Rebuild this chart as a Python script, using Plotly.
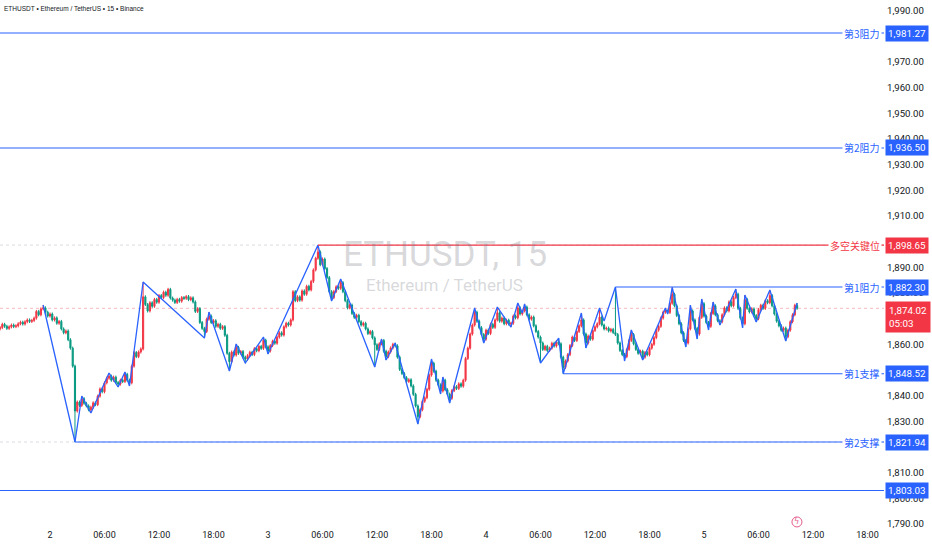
import pandas as pd
import plotly.graph_objects as go

# ETHUSDT 15m candles, first bar is 06-01 18:30
start = "2023-06-01 18:30"
first_open = 1866.0

close_d1 = [1866.5, 1867.8, 1867.0, 1866.2, 1866.8, 1867.5, 1866.9, 1867.2, 1868.0, 1868.6,
            1867.9, 1868.8, 1869.5, 1868.9, 1869.3, 1870.2, 1872.8, 1871.5, 1873.8, 1874.2,
            1872.5, 1871.0]
close_d2 = [1871.8, 1869.5, 1870.3, 1868.2, 1868.9, 1866.0, 1864.5, 1865.2, 1861.8, 1858.5,
            1851.5, 1834.0, 1837.5, 1836.2, 1838.8, 1837.0, 1836.0, 1834.5, 1835.5, 1837.2,
            1836.5, 1839.8, 1842.6, 1841.5, 1845.0, 1846.8, 1847.6, 1846.0, 1847.2, 1845.1,
            1844.5, 1846.0, 1845.5, 1848.3, 1846.0, 1845.0, 1851.5, 1856.8, 1855.2, 1857.0,
            1858.2, 1878.5, 1875.5, 1873.0, 1876.2, 1874.8, 1877.5, 1876.4, 1879.0, 1878.2,
            1880.3, 1879.1, 1881.4, 1878.0, 1877.2, 1876.3, 1877.5, 1876.8, 1878.2, 1877.9,
            1878.6, 1877.4, 1878.1, 1876.5, 1872.8, 1873.9, 1868.5, 1866.2, 1865.0, 1869.8,
            1871.0, 1868.5, 1869.2, 1867.0, 1867.8, 1866.2, 1866.9, 1863.5, 1856.5, 1853.2,
            1857.0, 1855.8, 1858.8, 1856.5, 1857.2, 1855.0, 1854.2, 1855.6, 1856.9, 1856.0,
            1858.3, 1857.5, 1859.2, 1858.4, 1861.6, 1859.0]
close_d3 = [1857.4, 1859.5, 1861.2, 1860.4, 1862.8, 1864.5, 1863.6, 1866.8, 1868.2, 1867.5,
            1869.5, 1880.5, 1877.0, 1878.5, 1877.2, 1880.8, 1879.5, 1882.6, 1881.2, 1884.5,
            1889.0, 1893.5, 1896.0, 1891.0, 1893.2, 1889.5, 1886.0, 1880.5, 1878.2, 1880.6,
            1882.4, 1881.8, 1884.0, 1880.5, 1877.0, 1874.2, 1875.3, 1872.0, 1870.5, 1871.3,
            1868.8, 1867.5, 1868.2, 1866.0, 1864.2, 1865.0, 1862.5, 1859.8, 1858.0, 1860.2,
            1861.5, 1857.3, 1855.2, 1857.0, 1858.6, 1860.0, 1859.4, 1855.0, 1850.2, 1848.6,
            1847.0, 1845.5, 1846.2, 1843.8, 1840.5, 1836.0, 1831.8, 1834.5, 1837.8, 1839.2,
            1842.5, 1848.0, 1852.6, 1849.5, 1846.0, 1844.2, 1841.8, 1846.0, 1842.3, 1840.6,
            1839.0, 1842.0, 1843.5, 1842.8, 1844.6, 1843.7, 1846.0, 1854.5, 1858.5, 1864.0,
            1867.5, 1872.5, 1869.0, 1866.5, 1863.8, 1862.0]
close_d4 = [1865.5, 1864.2, 1867.8, 1866.6, 1869.5, 1872.3, 1869.0, 1870.2, 1868.0, 1869.4,
            1867.9, 1868.2, 1871.0, 1870.3, 1874.2, 1871.8, 1873.0, 1874.5, 1871.5, 1869.8,
            1870.6, 1867.2, 1865.0, 1862.8, 1860.5, 1858.0, 1859.2, 1857.6, 1858.5, 1860.4,
            1859.3, 1861.0, 1860.2, 1855.0, 1851.0, 1853.5, 1856.0, 1859.5, 1862.8, 1861.5,
            1865.0, 1867.2, 1869.5, 1864.0, 1860.5, 1863.2, 1862.0, 1865.4, 1866.8, 1868.0,
            1870.6, 1867.5, 1866.0, 1866.3, 1865.2, 1865.8, 1864.6, 1863.8, 1860.5, 1857.6,
            1856.0, 1855.2, 1858.0, 1861.5, 1863.8, 1860.2, 1858.0, 1856.5, 1857.3, 1855.0,
            1856.8, 1855.9, 1858.5, 1860.0, 1862.6, 1865.5, 1867.0, 1870.2, 1872.5, 1873.0,
            1872.4, 1876.0, 1879.5, 1875.0, 1871.2, 1868.0, 1864.5, 1861.5, 1860.5, 1866.0,
            1873.0, 1869.5, 1866.2, 1864.0, 1870.5, 1875.8]
close_d5 = [1871.0, 1868.5, 1867.0, 1872.0, 1875.0, 1871.5, 1869.2, 1868.8, 1871.5, 1874.2,
            1873.0, 1876.5, 1875.0, 1878.2, 1879.5, 1874.0, 1870.2, 1868.0, 1877.5, 1874.0,
            1872.6, 1873.8, 1871.2, 1870.0, 1873.5, 1875.2, 1874.0, 1877.0, 1876.2, 1879.0,
            1875.0, 1871.8, 1869.0, 1867.2, 1865.5, 1866.3, 1863.0, 1865.5, 1868.8, 1871.5,
            1875.2, 1874.02]

# zigzag swing points
zz_time = ["06-01 23:15", "06-02 02:45", "06-02 03:30", "06-02 04:30", "06-02 06:30",
           "06-02 07:30", "06-02 08:15", "06-02 08:45", "06-02 10:15", "06-02 17:00",
           "06-02 17:30", "06-02 19:45", "06-02 20:30", "06-02 21:30", "06-02 23:30",
           "06-03 00:00", "06-03 05:30", "06-03 07:00", "06-03 08:00", "06-03 11:45",
           "06-03 12:30", "06-03 13:00", "06-03 14:00", "06-03 16:30", "06-03 18:00",
           "06-03 19:00", "06-03 19:15", "06-03 20:00", "06-03 22:45", "06-03 23:45",
           "06-04 01:15", "06-04 02:45", "06-04 03:30", "06-04 04:00", "06-04 04:15",
           "06-04 06:00", "06-04 08:00", "06-04 08:30", "06-04 10:30", "06-04 11:00",
           "06-04 12:30", "06-04 13:00", "06-04 14:15", "06-04 15:15", "06-04 16:00",
           "06-04 17:15", "06-04 19:45", "06-04 20:00", "06-04 20:30", "06-04 22:00",
           "06-04 22:30", "06-04 23:15", "06-04 23:45", "06-05 00:30", "06-05 01:00",
           "06-05 01:45", "06-05 03:30", "06-05 04:15", "06-05 04:30", "06-05 05:45",
           "06-05 07:15", "06-05 09:00", "06-05 10:15"]
zz_price = [1875.31, 1821.94, 1839.86, 1833.24, 1848.82, 1843.37, 1849.21, 1843.76, 1884.27,
            1862.45, 1872.58, 1849.60, 1860.12, 1852.72, 1862.84, 1856.22, 1898.65, 1876.87,
            1885.44, 1851.16, 1862.06, 1853.88, 1860.51, 1828.95, 1854.27, 1840.64, 1847.26,
            1837.13, 1874.14, 1860.51, 1874.53, 1866.74, 1876.09, 1872.19, 1875.70, 1852.72,
            1862.45, 1848.52, 1872.19, 1858.56, 1874.14, 1869.08, 1882.30, 1853.49, 1865.57,
            1853.88, 1874.14, 1871.80, 1882.20, 1858.95, 1875.31, 1862.06, 1877.65, 1865.57,
            1876.48, 1867.52, 1881.54, 1866.35, 1879.21, 1868.69, 1881.15, 1861.29, 1876.09]

# horizontal levels
level_names = ["第3阻力", "第2阻力", "多空关键位", "第1阻力", "第1支撑", "第2支撑", ""]
level_prices = [1981.27, 1936.50, 1898.65, 1882.30, 1848.52, 1821.94, 1803.03]
level_from = [None, None, "06-03 05:30", "06-04 14:15", "06-04 08:30", "06-02 02:45", None]
level_colors = ["#2962FF", "#2962FF", "#F23645", "#2962FF", "#2962FF", "#2962FF", "#2962FF"]

last_price = 1874.02
countdown = "05:03"

# price scale labels (the ones sitting fully under a price tag are left out)
price_ticks = [1790, 1800, 1810, 1830, 1840, 1850, 1860, 1880, 1890, 1900,
               1910, 1920, 1930, 1940, 1950, 1960, 1970, 1990]

tick_times = ["06-02 00:00", "06-02 06:00", "06-02 12:00", "06-02 18:00",
              "06-03 00:00", "06-03 06:00", "06-03 12:00", "06-03 18:00",
              "06-04 00:00", "06-04 06:00", "06-04 12:00", "06-04 18:00",
              "06-05 00:00", "06-05 06:00", "06-05 12:00", "06-05 18:00"]
tick_text = ["2", "06:00", "12:00", "18:00", "3", "06:00", "12:00", "18:00",
             "4", "06:00", "12:00", "18:00", "5", "06:00", "12:00", "18:00"]

blue = "#2962FF"
red = "#F23645"
green = "#089981"


def ts(s):
    return pd.Timestamp("2023-" + s)


closes = close_d1 + close_d2 + close_d3 + close_d4 + close_d5
times = pd.date_range(start, periods=len(closes), freq="15min")
opens = [first_open] + closes[:-1]
highs = [max(o, c) + 0.6 for o, c in zip(opens, closes)]
lows = [min(o, c) - 0.6 for o, c in zip(opens, closes)]

# let the swing points sit on the candle wicks
idx = {t: i for i, t in enumerate(times)}
for k, (t, p) in enumerate(zip(zz_time, zz_price)):
    ref = zz_price[k - 1] if k > 0 else zz_price[1]
    i = idx.get(ts(t))
    if i is None:
        continue
    if p > ref:
        highs[i] = max(highs[i], p)
    else:
        lows[i] = min(lows[i], p)

x_lo = pd.Timestamp("2023-06-01 18:29:42")
x_hi = pd.Timestamp("2023-06-05 19:49:00")
y_lo, y_hi = 1788.44, 1994.13

fig = go.Figure()

# faint dotted guides
for p, col in [(1898.65, "#D9DBE0"), (1821.94, "#D9DBE0"), (last_price, "#F7B8BE")]:
    fig.add_shape(type="line", x0=x_lo, x1=x_hi, y0=p, y1=p, xref="x", yref="y",
                  line=dict(color=col, width=1, dash="dot"), layer="below")

fig.add_trace(go.Candlestick(
    x=times, open=opens, high=highs, low=lows, close=closes,
    increasing=dict(line=dict(color=red, width=1), fillcolor=red),
    decreasing=dict(line=dict(color=green, width=1), fillcolor=green),
    whiskerwidth=0, hoverinfo="skip"))

fig.add_trace(go.Scatter(x=[ts(t) for t in zz_time], y=zz_price, mode="lines",
                         line=dict(color=blue, width=1.3), hoverinfo="skip"))

for name, p, frm, col in zip(level_names, level_prices, level_from, level_colors):
    x0 = x_lo if frm is None else ts(frm)
    fig.add_shape(type="line", x0=x0, x1=x_hi, y0=p, y1=p, xref="x", yref="y",
                  line=dict(color=col, width=1.1))
    if name:
        fig.add_annotation(x=1, xref="paper", xanchor="right", xshift=-2, y=p, yref="y",
                           text=name, showarrow=False, bgcolor="white", borderpad=1,
                           font=dict(color=col, size=10, family="Noto Sans CJK SC"))
    fig.add_annotation(x=1, xref="paper", xanchor="left", xshift=1, y=p, yref="y",
                       text=f"{p:,.2f}", showarrow=False, bgcolor=col, borderpad=2,
                       font=dict(color="white", size=9.8, family="Roboto"))

# last price tag with bar countdown
fig.add_annotation(x=1, xref="paper", xanchor="left", xshift=1, y=last_price, yref="y",
                   yanchor="top", yshift=7, text=f"{last_price:,.2f}<br>{countdown}",
                   align="left", showarrow=False, bgcolor=red, borderpad=3,
                   font=dict(color="white", size=9.8, family="Roboto"))

# watermark
fig.add_annotation(x=0.503, y=0.518, xref="paper", yref="paper", text="ETHUSDT, 15",
                   showarrow=False, font=dict(size=35, color="rgba(120,123,134,0.30)",
                                              family="Roboto"))
fig.add_annotation(x=0.503, y=0.46, xref="paper", yref="paper", text="Ethereum / TetherUS",
                   showarrow=False, font=dict(size=17, color="rgba(120,123,134,0.30)",
                                              family="Roboto"))

# header
fig.add_annotation(x=0, y=1, xref="paper", yref="paper", xanchor="left", yanchor="top",
                   xshift=2, yshift=-3,
                   text="ETHUSDT • Ethereum / TetherUS • 15 • Binance",
                   showarrow=False, font=dict(size=6.5, color="#131722",
                                              family="Liberation Sans"))

# event marker on the time scale
ev_t, ev_p = ts("06-05 10:14"), 1790.8
fig.add_shape(type="circle", xref="x", yref="y", xsizemode="pixel", ysizemode="pixel",
              xanchor=ev_t, yanchor=ev_p, x0=-5, x1=5, y0=-5, y1=5,
              line=dict(color="#E45A8C", width=1))
fig.add_annotation(x=ev_t, y=ev_p, text="ϟ", showarrow=False,
                   font=dict(size=8, color="#E45A8C", family="DejaVu Sans"))

fig.update_layout(
    width=932, height=550,
    margin=dict(l=0, r=48, t=0, b=22),
    plot_bgcolor="white", paper_bgcolor="white",
    showlegend=False,
    font=dict(family="Roboto", color="#131722"),
    xaxis=dict(type="date", range=[x_lo, x_hi], rangeslider=dict(visible=False),
               tickvals=[ts(t) for t in tick_times], ticktext=tick_text,
               showgrid=False, zeroline=False, showline=False, ticks="",
               tickfont=dict(size=9, color="#131722")),
    yaxis=dict(side="right", range=[y_lo, y_hi], tickvals=price_ticks,
               tickformat=",.2f", showgrid=False, zeroline=False, showline=False,
               ticks="", ticklabelstandoff=2, tickfont=dict(size=9.6, color="#131722")),
)

fig.write_html("out.html", config={"displayModeBar": False},
               post_script="document.body.style.margin='0';")
